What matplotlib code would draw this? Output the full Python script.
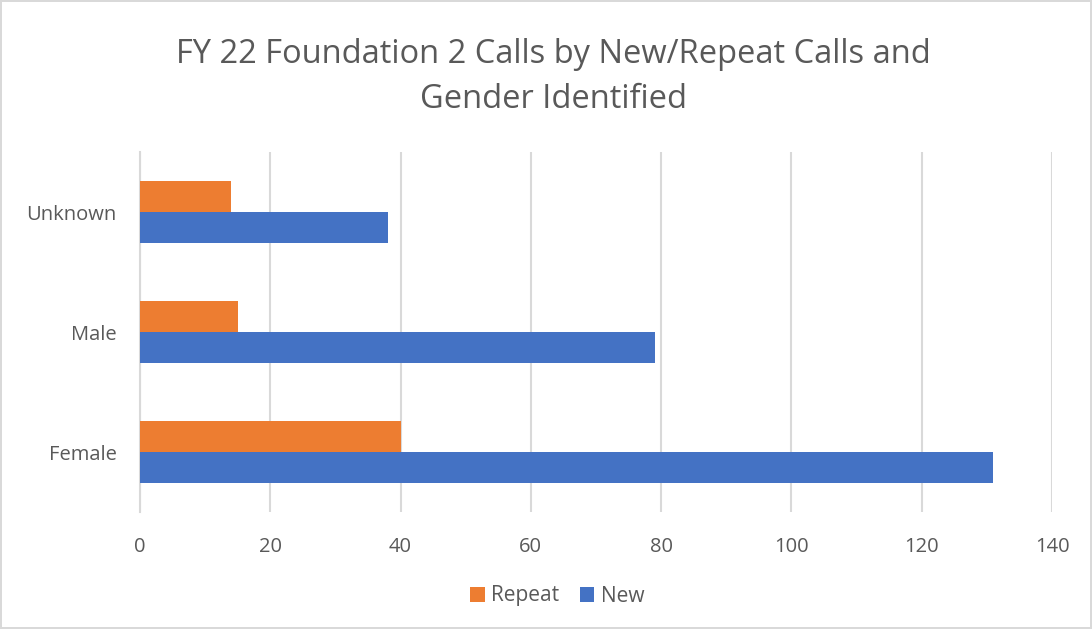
"""FY 22 Foundation 2 calls, new vs repeat, by gender."""
import matplotlib.pyplot as plt
import numpy as np

categories = ['Female', 'Male', 'Unknown']
new_calls = [131, 79, 38]
repeat_calls = [40, 15, 14]

plt.rcParams['font.family'] = ['Open Sans', 'DejaVu Sans']

fig = plt.figure(figsize=(10.92, 6.29), dpi=100)
fig.patch.set_edgecolor('#d9d9d9')
fig.patch.set_linewidth(1.5)
ax = fig.add_axes([140 / 1092, 1 - 512 / 629, 912 / 1092, 360 / 629])

y = np.arange(len(categories))
h = 0.26
ax.barh(y - h / 2, new_calls, height=h, color='#4472c4', label='New', zorder=3)
ax.barh(y + h / 2, repeat_calls, height=h, color='#ed7d31', label='Repeat', zorder=3)

ax.set_xlim(0, 140)
ax.set_ylim(-0.5, 2.5)
ax.set_xticks(range(0, 141, 20))
ax.set_yticks(y)
ax.set_yticklabels(categories)
ax.grid(axis='x', color='#d9d9d9', linewidth=1.5, zorder=0)
for s in ['top', 'right', 'bottom']:
    ax.spines[s].set_visible(False)
ax.spines['left'].set_color('#d9d9d9')
ax.spines['left'].set_linewidth(1.5)
ax.tick_params(length=0, labelsize=14.5, labelcolor='#595959')
ax.tick_params(axis='x', pad=18)
ax.tick_params(axis='y', pad=17)

fig.text(553 / 1092, 1 - 77 / 629,
         'FY 22 Foundation 2 Calls by New/Repeat Calls and\nGender Identified',
         ha='center', va='center', fontsize=23.5, color='#595959', linespacing=1.5)

handles, labels = ax.get_legend_handles_labels()
fig.legend(handles[::-1], labels[::-1], loc='center', bbox_to_anchor=(557 / 1092, 1 - 596 / 629),
           ncol=2, frameon=False, fontsize=15, labelcolor='#595959',
           handlelength=0.7, handleheight=0.7, handletextpad=0.3, columnspacing=1.0)

fig.savefig('out.png', dpi=100)
